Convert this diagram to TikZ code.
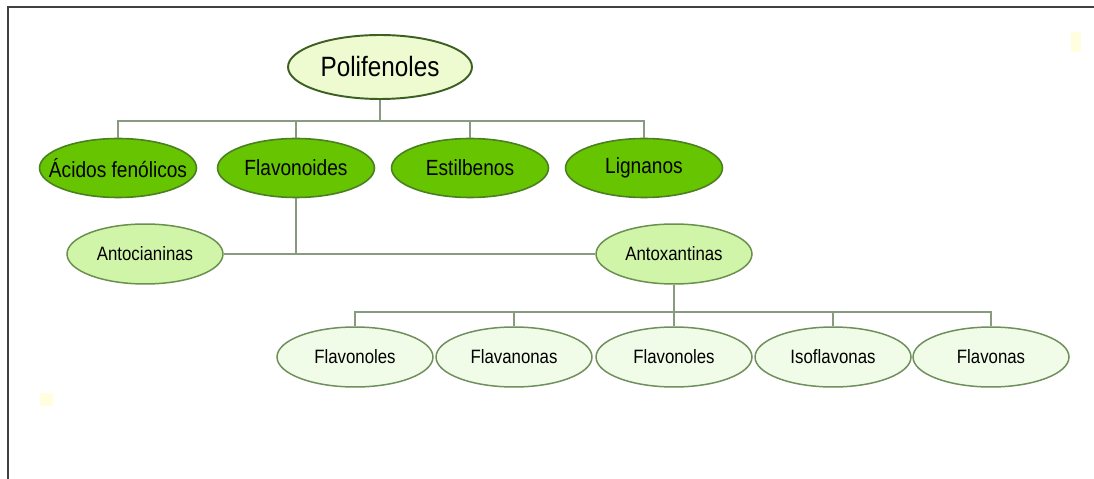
\documentclass[tikz,border=0pt]{standalone}
\usepackage{fontspec}
\setmainfont{Liberation Sans}[FakeStretch=0.87]
\usetikzlibrary{shapes.geometric}

\definecolor{rootfill}{HTML}{EEFBD0}
\definecolor{rootdraw}{HTML}{3E5F22}
\definecolor{grpfill}{HTML}{66C400}
\definecolor{grpdraw}{HTML}{4A7F22}
\definecolor{subfill}{HTML}{D0F5A8}
\definecolor{subdraw}{HTML}{6A8F4E}
\definecolor{leaffill}{HTML}{F1FCE8}
\definecolor{leafdraw}{HTML}{6F8F5C}
\definecolor{linkcol}{HTML}{8A9A80}
\definecolor{dotcol}{HTML}{FFFFE0}

\begin{document}
\begin{tikzpicture}[x=0.02cm, y=-0.02cm,
	root/.style={ellipse, draw=rootdraw, fill=rootfill, line width=1.1pt, minimum width=3.68cm, minimum height=1.28cm, inner sep=0pt, font=\fontsize{15.9pt}{18pt}\selectfont},
	grp/.style={ellipse, draw=grpdraw, fill=grpfill, line width=0.9pt, minimum width=3.14cm, minimum height=1.18cm, inner sep=0pt, font=\fontsize{12.5pt}{14pt}\selectfont},
	sub/.style={ellipse, draw=subdraw, fill=subfill, line width=0.85pt, minimum width=3.12cm, minimum height=1.2cm, inner sep=0pt, font=\fontsize{11pt}{13pt}\selectfont},
	leaf/.style={ellipse, draw=leafdraw, fill=leaffill, line width=0.85pt, minimum width=3.12cm, minimum height=1.2cm, inner sep=0pt, font=\fontsize{11pt}{13pt}\selectfont},
	link/.style={draw=linkcol, line width=1.1pt},
	frame/.style={draw=black!75, line width=1.4pt}]
		\useasboundingbox (0,0) rectangle (1094,479);
		
		\draw[frame] (8,479) -- (8,7) -- (1094,7);
		\fill[dotcol] (1071,32) rectangle (1081,52);
		\fill[dotcol] (40,393) rectangle (53,406);
		
		\coordinate (b1) at (380,121);
		\coordinate (b3) at (674,312);
		
		\node [root] (poli) at (380,67) {Polifenoles};
		
		% text wider than the ellipse here, keep the ellipse at its size
		\node [grp] (acid) at (118,168) {\makebox[2cm][c]{Ácidos fenólicos}};
		\node [grp] (flav) at (296,168) {Flavonoides};
		\node [grp] (esti) at (470,168) {Estilbenos};
		\node [grp] (lign) at (644,168) {Lignanos};
		
		\draw[link] (poli.south) -- (b1);
		\draw[link] (acid.north) |- (b1) -| (lign.north);
		\draw[link] (flav.north) -- (flav.north |- b1);
		\draw[link] (esti.north) -- (esti.north |- b1);
		
		\node [sub] (anto) at (145,254) {Antocianinas};
		\node [sub] (antx) at (674,254) {Antoxantinas};
		
		\draw[link] (flav.south) -- (flav.south |- anto.east);
		\draw[link] (anto.east) -- (antx.west);
		
		\node [leaf] (fnol1) at (355,357) {Flavonoles};
		\node [leaf] (fnon) at (514,357) {Flavanonas};
		\node [leaf] (fnol2) at (674,357) {Flavonoles};
		\node [leaf] (isof) at (833,357) {Isoflavonas};
		\node [leaf] (fona) at (991,357) {Flavonas};
		
		\draw[link] (antx.south) -- (fnol2.north);
		\draw[link] (fnol1.north) |- (b3) -| (fona.north);
		\draw[link] (fnon.north) -- (fnon.north |- b3);
		\draw[link] (isof.north) -- (isof.north |- b3);
\end{tikzpicture}
\end{document}
